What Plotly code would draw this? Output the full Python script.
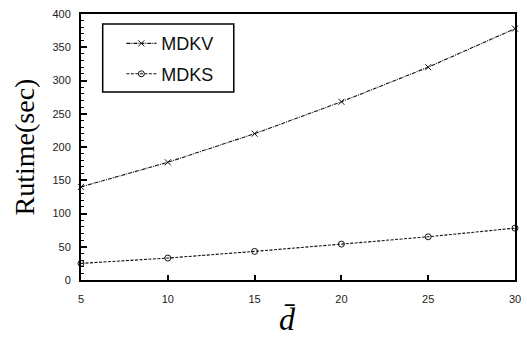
import plotly.graph_objects as go

d_values = [5, 10, 15, 20, 25, 30]
mdkv = [140, 177, 220, 268, 320, 378]
mdks = [25, 33, 43, 54, 65, 78]
series_names = ["MDKV", "MDKS"]

fig = go.Figure()
fig.add_trace(go.Scatter(
    x=d_values, y=mdkv, name=series_names[0], mode="lines+markers",
    line=dict(color="#111", width=1.1, dash="4px,1px,1px,1px"),
    marker=dict(symbol="x-thin-open", size=6, color="#111", line=dict(width=1, color="#111")),
    cliponaxis=False, legendgroup="a"))
fig.add_trace(go.Scatter(
    x=d_values, y=mdks, name=series_names[1], mode="lines+markers",
    line=dict(color="#111", width=1.1, dash="3px,1.5px"),
    marker=dict(symbol="circle-open", size=6, color="#111", line=dict(width=1, color="#111")),
    cliponaxis=False, legendgroup="b"))

fig.add_shape(type="rect", xref="paper", yref="paper",
              x0=0.05, x1=0.352, y0=0.707, y1=0.962,
              line=dict(color="black", width=1.5), fillcolor="white", layer="below")

fig.add_annotation(text="<i>d̄</i>", xref="paper", yref="paper",
                   x=0.475, y=-0.222, xanchor="center", yanchor="bottom",
                   showarrow=False,
                   font=dict(family="Liberation Serif, Times New Roman", size=32, color="black"))

fig.update_layout(
    width=527, height=343,
    margin=dict(l=81, r=6, t=14, b=63),
    paper_bgcolor="white", plot_bgcolor="white",
    font=dict(family="Liberation Sans, Arial", size=11, color="#222"),
    showlegend=True,
    legend=dict(x=0.093, y=0.958, xanchor="left", yanchor="top",
                borderwidth=0, bgcolor="rgba(0,0,0,0)",
                font=dict(size=18, family="Liberation Sans, Arial", color="#111"),
                tracegroupgap=4, traceorder="grouped",
                itemwidth=30),
    xaxis=dict(range=[5, 30], tickvals=d_values, ticks="inside", ticklen=5,
               tickcolor="black", tickwidth=1.5, ticklabelstandoff=8,
               showline=True, linecolor="black", linewidth=2, mirror=True,
               showgrid=False, zeroline=False),
    yaxis=dict(range=[0, 400], dtick=50, ticks="inside", ticklen=6,
               tickcolor="black", tickwidth=1.5, ticklabelstandoff=6,
               minor=dict(dtick=10, ticks="inside", ticklen=3, tickcolor="black", tickwidth=1),
               showline=True, linecolor="black", linewidth=2, mirror=True,
               showgrid=False, zeroline=False,
               title=dict(text="Rutime(sec)", font=dict(family="Liberation Serif, Times New Roman", size=28, color="black"),
                          standoff=10)),
)

fig.write_html("out.html")
